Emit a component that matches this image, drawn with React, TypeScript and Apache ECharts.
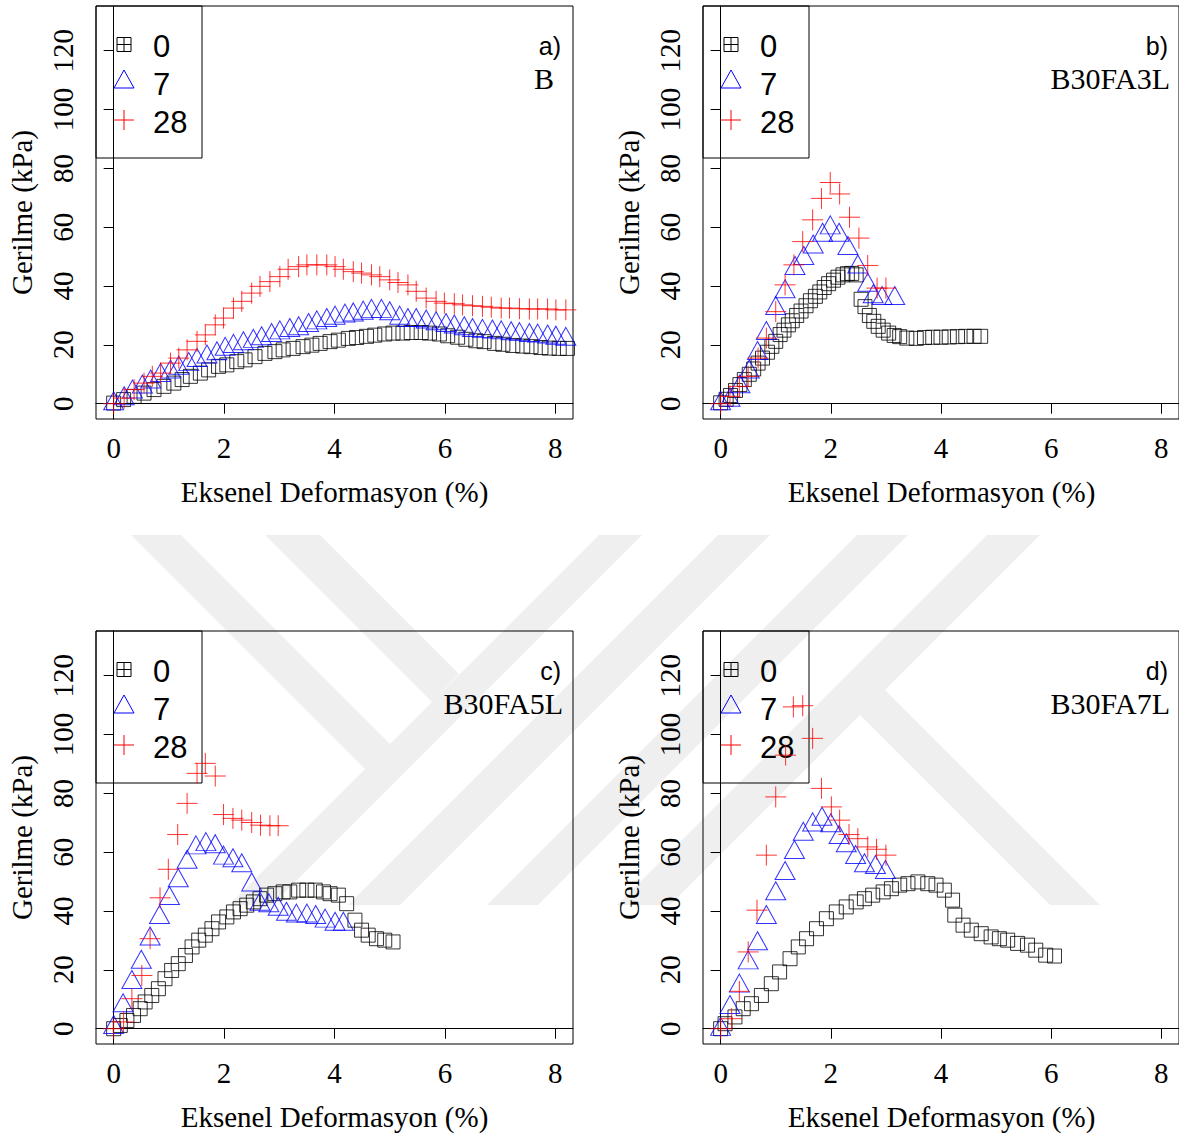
import React, { useEffect, useRef } from "react";
import * as echarts from "echarts";

// ---------- texts ----------
const panelLabels = ["a)", "b)", "c)", "d)"];
const mixNames = ["B", "B30FA3L", "B30FA5L", "B30FA7L"];
const legendNames = ["0", "7", "28"];
const xTicks = [0, 2, 4, 6, 8];
const yTicks = [0, 20, 40, 60, 80, 100, 120];
const xTitle = "Eksenel Deformasyon (%)";
const yTitle = "Gerilme (kPa)";

// ---------- data [strain %, stress kPa] ----------
const aDay0 = [[0, 0.2], [0.18, 1.4], [0.37, 2.5], [0.55, 3.6], [0.73, 4.8], [0.91, 5.9], [1.09, 7.0], [1.24, 8.2], [1.39, 9.3], [1.57, 10.4], [1.72, 11.5], [1.9, 12.7], [2.05, 13.2], [2.23, 14.3], [2.38, 14.9], [2.56, 16.0], [2.74, 17.1], [2.92, 17.7], [3.07, 18.3], [3.25, 18.8], [3.43, 19.4], [3.59, 19.9], [3.74, 20.5], [3.92, 21.1], [4.07, 21.6], [4.25, 22.2], [4.4, 22.5], [4.58, 22.9], [4.73, 23.3], [4.91, 23.7], [5.06, 24.0], [5.24, 24.0], [5.39, 24.2], [5.57, 24.2], [5.72, 24.0], [5.9, 23.7], [6.05, 23.1], [6.23, 22.6], [6.38, 21.9], [6.56, 21.4], [6.71, 21.1], [6.9, 20.5], [7.05, 20.2], [7.23, 19.8], [7.41, 19.6], [7.56, 19.4], [7.74, 19.1], [7.89, 18.9], [8.07, 18.8], [8.22, 18.8]];
const aDay7 = [[0, 1.0], [0.19, 2.7], [0.34, 5.0], [0.52, 6.7], [0.67, 8.4], [0.85, 10.6], [1.03, 11.8], [1.18, 13.1], [1.36, 14.3], [1.51, 15.7], [1.69, 16.9], [1.87, 18.0], [2.02, 19.5], [2.17, 20.5], [2.35, 21.4], [2.53, 22.2], [2.68, 23.1], [2.86, 24.2], [3.01, 25.1], [3.19, 25.9], [3.35, 26.5], [3.53, 27.6], [3.68, 28.5], [3.86, 29.3], [4.01, 30.1], [4.19, 30.8], [4.34, 31.2], [4.52, 31.8], [4.67, 32.4], [4.85, 32.4], [5.0, 31.6], [5.18, 30.1], [5.33, 29.3], [5.48, 29.3], [5.66, 28.8], [5.84, 28.2], [6.02, 27.6], [6.17, 27.1], [6.35, 26.5], [6.5, 25.9], [6.68, 25.6], [6.86, 25.4], [7.02, 25.1], [7.2, 24.8], [7.35, 24.5], [7.53, 24.2], [7.68, 24.0], [7.86, 23.7], [8.01, 23.3], [8.19, 22.9]];
const aDay28 = [[0, 0.0], [0.19, 1.9], [0.37, 4.8], [0.55, 7.0], [0.7, 9.3], [0.85, 10.4], [1.03, 13.8], [1.18, 15.5], [1.33, 18.3], [1.51, 21.2], [1.66, 23.4], [1.84, 26.8], [1.99, 29.1], [2.17, 32.5], [2.32, 34.8], [2.5, 37.6], [2.65, 39.9], [2.83, 41.5], [3.01, 43.2], [3.16, 45.7], [3.35, 46.6], [3.5, 47.2], [3.68, 47.2], [3.86, 47.2], [4.01, 46.6], [4.16, 45.7], [4.34, 44.9], [4.49, 44.4], [4.67, 43.8], [4.82, 43.2], [5.0, 42.1], [5.15, 41.2], [5.33, 40.4], [5.48, 38.2], [5.66, 35.9], [5.84, 34.8], [5.99, 34.2], [6.17, 34.0], [6.32, 33.6], [6.5, 33.3], [6.68, 33.1], [6.84, 32.8], [7.02, 32.5], [7.17, 32.5], [7.35, 32.3], [7.53, 32.2], [7.68, 32.2], [7.86, 32.2], [8.01, 31.9], [8.19, 31.9]];

const bDay0 = [[0, 0.3], [0.1, 1.5], [0.18, 2.8], [0.27, 4.5], [0.35, 6.5], [0.43, 8.2], [0.52, 10.0], [0.6, 11.8], [0.68, 13.8], [0.76, 15.5], [0.85, 17.5], [0.93, 19.5], [1.0, 21.2], [1.08, 23.5], [1.15, 25.0], [1.23, 26.8], [1.3, 28.2], [1.38, 30.0], [1.46, 31.5], [1.55, 33.3], [1.63, 35.0], [1.72, 36.5], [1.8, 38.0], [1.88, 39.5], [1.96, 40.8], [2.05, 42.0], [2.13, 43.0], [2.22, 43.8], [2.3, 44.2], [2.38, 44.3], [2.46, 43.8], [2.55, 35.5], [2.62, 33.0], [2.7, 30.0], [2.78, 28.0], [2.86, 26.3], [2.95, 25.0], [3.05, 24.0], [3.15, 23.2], [3.25, 22.8], [3.38, 22.3], [3.55, 22.2], [3.7, 22.5], [3.85, 22.6], [4.0, 22.6], [4.15, 22.7], [4.3, 22.8], [4.45, 22.9], [4.6, 22.9], [4.72, 22.9]];
const bDay7 = [[0, 1.0], [0.17, 2.2], [0.35, 6.8], [0.52, 11.8], [0.67, 18.1], [0.83, 24.9], [1.0, 33.4], [1.17, 39.1], [1.35, 47.0], [1.51, 50.4], [1.68, 54.3], [1.85, 58.3], [1.99, 60.8], [2.15, 58.3], [2.31, 53.8], [2.49, 47.5], [2.67, 41.3], [2.77, 37.4], [2.93, 36.8], [3.16, 36.8]];
const bDay28 = [[0, 0.0], [0.17, 2.5], [0.34, 5.9], [0.5, 9.3], [0.68, 15.5], [0.83, 22.3], [1.0, 31.3], [1.17, 40.4], [1.33, 47.2], [1.49, 55.1], [1.67, 62.5], [1.83, 69.8], [1.99, 75.2], [2.16, 71.3], [2.34, 63.4], [2.51, 56.3], [2.67, 47.0], [2.84, 39.3], [3.0, 39.3]];

const cDay0 = [[0, 0.0], [0.12, 1.1], [0.24, 2.8], [0.36, 4.5], [0.48, 6.8], [0.57, 9.1], [0.69, 11.3], [0.81, 13.6], [0.93, 17.0], [1.05, 19.8], [1.17, 22.1], [1.3, 24.9], [1.42, 27.8], [1.54, 30.1], [1.66, 31.8], [1.78, 34.0], [1.9, 36.3], [2.05, 38.0], [2.17, 39.7], [2.29, 40.8], [2.41, 42.0], [2.53, 43.1], [2.65, 44.2], [2.77, 45.4], [2.92, 45.9], [3.07, 46.5], [3.19, 46.5], [3.35, 47.1], [3.5, 47.1], [3.65, 47.1], [3.8, 46.5], [3.92, 45.9], [4.07, 45.4], [4.22, 42.5], [4.37, 36.9], [4.49, 33.5], [4.61, 31.8], [4.76, 30.6], [4.91, 30.1], [5.06, 29.5]];
const cDay7 = [[0, 1.4], [0.17, 8.8], [0.33, 16.7], [0.5, 23.6], [0.66, 31.5], [0.83, 38.8], [1.01, 45.3], [1.17, 51.3], [1.33, 57.6], [1.49, 62.5], [1.67, 63.6], [1.84, 62.9], [1.99, 59.0], [2.16, 58.1], [2.32, 56.4], [2.5, 49.9], [2.65, 43.3], [2.81, 42.8], [2.98, 41.6], [3.13, 39.9], [3.31, 39.3], [3.5, 39.3], [3.66, 38.8], [3.83, 37.6], [4.01, 36.5], [4.16, 36.5]];
const cDay28 = [[0, 0.0], [0.18, 2.3], [0.33, 10.2], [0.51, 18.1], [0.66, 30.6], [0.84, 44.5], [0.99, 54.2], [1.16, 66.0], [1.33, 76.6], [1.51, 86.8], [1.66, 90.2], [1.84, 85.9], [1.99, 72.8], [2.16, 71.5], [2.32, 70.9], [2.5, 70.1], [2.66, 69.2], [2.83, 69.0], [2.98, 69.0]];

const dDay0 = [[0, 0.0], [0.08, 1.7], [0.26, 4.0], [0.41, 6.8], [0.56, 8.5], [0.74, 11.3], [0.92, 15.3], [1.07, 19.3], [1.26, 23.8], [1.41, 27.8], [1.56, 30.6], [1.74, 34.0], [1.92, 37.4], [2.1, 39.7], [2.28, 41.4], [2.46, 43.1], [2.61, 44.2], [2.76, 45.4], [2.95, 46.5], [3.1, 47.6], [3.25, 48.8], [3.4, 49.3], [3.58, 49.9], [3.76, 49.3], [3.91, 48.8], [4.06, 47.1], [4.21, 43.7], [4.25, 38.6], [4.4, 35.2], [4.55, 33.5], [4.73, 32.3], [4.91, 31.2], [5.06, 30.6], [5.21, 30.1], [5.39, 29.0], [5.57, 28.4], [5.72, 26.7], [5.9, 25.0], [6.06, 24.7]];
const dDay7 = [[0, 0.8], [0.17, 8.2], [0.34, 15.5], [0.5, 23.4], [0.67, 29.9], [0.83, 38.8], [1.0, 46.9], [1.17, 53.8], [1.34, 60.9], [1.5, 67.1], [1.67, 70.3], [1.84, 72.2], [2.0, 70.0], [2.15, 66.0], [2.28, 63.2], [2.45, 59.2], [2.61, 56.4], [2.81, 55.8], [2.99, 54.1]];
const dDay28 = [[0, 0.0], [0.2, 3.4], [0.34, 12.7], [0.5, 26.1], [0.66, 40.3], [0.83, 59.0], [1.0, 78.8], [1.18, 93.0], [1.32, 109.4], [1.49, 109.8], [1.67, 98.7], [1.83, 81.7], [2.01, 75.4], [2.16, 70.9], [2.33, 66.0], [2.49, 64.6], [2.67, 61.8], [2.83, 61.0], [3.0, 59.0]];

const panelData = [
  [aDay0, aDay7, aDay28],
  [bDay0, bDay7, bDay28],
  [cDay0, cDay7, cDay28],
  [dDay0, dDay7, dDay28],
];

// ---------- layout / style ----------
const W = 1179;
const H = 1137;
const panelOrigins = [
  [96, 6],
  [703, 6],
  [96, 631],
  [703, 631],
];
const PW = 477;
const PH = 413;
const SERIF = "'Liberation Serif', 'Times New Roman', serif";
const SANS = "'Liberation Sans', Arial, sans-serif";
const CROSS = "path://M0,10H20M10,0V20";

// light watermark bands (background decoration)
const watermark = [
  [[131, 535], [181, 535], [390, 744], [365, 769]],
  [[265, 535], [320, 535], [459, 674], [432, 702]],
  [[599, 535], [642, 535], [272, 905], [229, 905]],
  [[718, 535], [770, 535], [400, 905], [348, 905]],
  [[857, 535], [908, 535], [538, 905], [487, 905]],
  [[987, 535], [1040, 535], [670, 905], [617, 905]],
  [[885, 690], [1100, 905], [1050, 905], [860, 715]],
];

function seriesStyle(kind: number) {
  if (kind === 0)
    return {
      symbol: "rect",
      symbolSize: 14,
      itemStyle: { color: "rgba(0,0,0,0)", borderColor: "#000000", borderWidth: 1 },
    };
  if (kind === 1)
    return {
      symbol: "triangle",
      symbolSize: [20, 18],
      itemStyle: { color: "rgba(0,0,0,0)", borderColor: "#0000ff", borderWidth: 1 },
    };
  return {
    symbol: CROSS,
    symbolSize: 21,
    itemStyle: { color: "rgba(0,0,0,0)", borderColor: "#ff0000", borderWidth: 1 },
  };
}

function buildOption() {
  const grid: any[] = [];
  const xAxis: any[] = [];
  const yAxis: any[] = [];
  const series: any[] = [];
  const graphics: any[] = [];

  watermark.forEach((pts) => {
    graphics.push({
      type: "polygon",
      z: -10,
      silent: true,
      shape: { points: pts },
      style: { fill: "#efefef" },
    });
  });

  panelOrigins.forEach(([ox, oy], i) => {
    grid.push({
      left: ox,
      top: oy,
      width: PW,
      height: PH,
      show: true,
      borderColor: "#000",
      borderWidth: 1,
      backgroundColor: "rgba(0,0,0,0)",
    });
    xAxis.push({
      gridIndex: i,
      type: "value",
      min: -0.32,
      max: 8.32,
      axisLine: { show: true, lineStyle: { color: "#000", width: 1 } },
      splitLine: { show: false },
      axisTick: { show: true, customValues: xTicks, length: 10, lineStyle: { color: "#000" } },
      axisLabel: {
        customValues: xTicks,
        margin: 14,
        color: "#000",
        fontFamily: SERIF,
        fontSize: 29,
      },
    });
    yAxis.push({
      gridIndex: i,
      type: "value",
      min: -5.2,
      max: 135.2,
      axisLine: { show: true, lineStyle: { color: "#000", width: 1 } },
      splitLine: { show: false },
      axisTick: { show: true, customValues: yTicks, length: 10, lineStyle: { color: "#000" } },
      axisLabel: {
        customValues: yTicks,
        rotate: 90,
        margin: 19,
        align: "center",
        verticalAlign: "bottom",
        color: "#000",
        fontFamily: SERIF,
        fontSize: 29,
      },
    });

    panelData[i].forEach((d, k) => {
      series.push({
        type: "scatter",
        name: legendNames[k],
        xAxisIndex: i,
        yAxisIndex: i,
        data: d,
        silent: true,
        ...seriesStyle(k),
      });
    });

    // legend box
    graphics.push({
      type: "rect",
      silent: true,
      shape: { x: ox, y: oy, width: 106, height: 152 },
      style: { fill: "none", stroke: "#000", lineWidth: 1 },
    });
    // boxed-plus marker
    graphics.push({
      type: "rect",
      silent: true,
      shape: { x: ox + 21, y: oy + 31.5, width: 14, height: 14 },
      style: { fill: "none", stroke: "#000", lineWidth: 1 },
    });
    graphics.push({
      type: "line",
      silent: true,
      shape: { x1: ox + 28, y1: oy + 31.5, x2: ox + 28, y2: oy + 45.5 },
      style: { stroke: "#000", lineWidth: 1 },
    });
    graphics.push({
      type: "line",
      silent: true,
      shape: { x1: ox + 21, y1: oy + 38.5, x2: ox + 35, y2: oy + 38.5 },
      style: { stroke: "#000", lineWidth: 1 },
    });
    // triangle marker
    graphics.push({
      type: "polygon",
      silent: true,
      shape: { points: [[ox + 28, oy + 64], [ox + 38, oy + 82], [ox + 18, oy + 82]] },
      style: { fill: "none", stroke: "#0000ff", lineWidth: 1 },
    });
    // cross marker
    graphics.push({
      type: "line",
      silent: true,
      shape: { x1: ox + 18, y1: oy + 114, x2: ox + 38, y2: oy + 114 },
      style: { stroke: "#ff0000", lineWidth: 1 },
    });
    graphics.push({
      type: "line",
      silent: true,
      shape: { x1: ox + 28, y1: oy + 104, x2: ox + 28, y2: oy + 124 },
      style: { stroke: "#ff0000", lineWidth: 1 },
    });
    const rowY = [40.5, 78, 116];
    legendNames.forEach((t, k) => {
      graphics.push({
        type: "text",
        silent: true,
        x: ox + 57,
        y: oy + rowY[k],
        style: {
          text: t,
          fill: "#000",
          font: `31px ${SANS}`,
          align: "left",
          verticalAlign: "middle",
        },
      });
    });

    // panel annotations
    graphics.push({
      type: "text",
      silent: true,
      x: ox + 465,
      y: oy + 39.5,
      style: {
        text: panelLabels[i],
        fill: "#000",
        font: `25px ${SANS}`,
        align: "right",
        verticalAlign: "middle",
      },
    });
    graphics.push({
      type: "text",
      silent: true,
      x: i === 0 ? ox + 458 : ox + 467,
      y: oy + 72,
      style: {
        text: mixNames[i],
        fill: "#000",
        font: `30px ${SERIF}`,
        align: "right",
        verticalAlign: "middle",
      },
    });

    // axis titles
    graphics.push({
      type: "text",
      silent: true,
      x: ox + PW / 2,
      y: oy + 486,
      style: {
        text: xTitle,
        fill: "#000",
        font: `29px ${SERIF}`,
        align: "center",
        verticalAlign: "middle",
      },
    });
    graphics.push({
      type: "text",
      silent: true,
      x: ox - 74,
      y: oy + PH / 2,
      rotation: Math.PI / 2,
      style: {
        text: yTitle,
        fill: "#000",
        font: `29px ${SERIF}`,
        align: "center",
        verticalAlign: "middle",
      },
    });
  });

  return {
    animation: false,
    backgroundColor: "#ffffff",
    grid,
    xAxis,
    yAxis,
    series,
    graphic: { elements: graphics },
  };
}

export default function App() {
  const ref = useRef<HTMLDivElement>(null);
  useEffect(() => {
    if (!ref.current) return;
    const chart = echarts.init(ref.current, undefined, { renderer: "svg", width: W, height: H });
    chart.setOption(buildOption() as any);
    return () => {
      chart.dispose();
    };
  }, []);
  return (
    <div
      ref={ref}
      style={{ position: "absolute", left: 0, top: 0, width: W, height: H, background: "#fff" }}
    />
  );
}
